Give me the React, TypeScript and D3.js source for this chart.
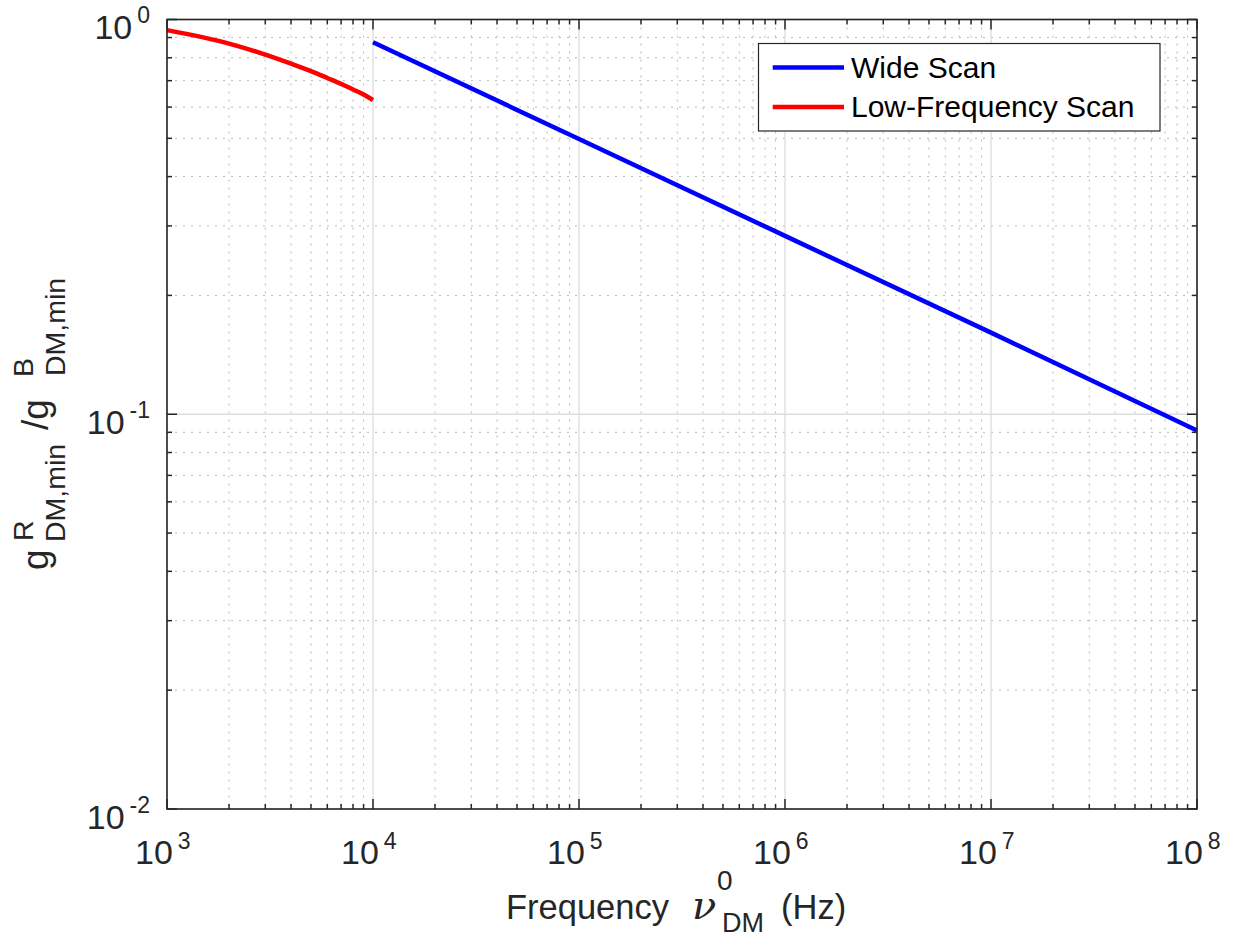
import React from "react";
import * as d3 from "d3";

// ---- data ----
const wideFreq = [1e4, 1e5, 1e6, 1e7, 1e8];
const wideRatio = [0.876, 0.498, 0.283, 0.161, 0.091];

const lowFreq = [1000, 2000, 3000, 4000, 5000, 6000, 7000, 8000, 9000, 10000];
const lowRatio = [0.94, 0.869, 0.815, 0.773, 0.74, 0.711, 0.687, 0.665, 0.646, 0.625];

const xTickExps = [3, 4, 5, 6, 7, 8];
const yTickExps = [-2, -1, 0];

const seriesNames = ["Wide Scan", "Low-Frequency Scan"];
const seriesColors = ["#0000ff", "#ff0000"];

const W = 1237;
const H = 938;
const L = 167;
const R = 1197;
const T = 19.5;
const B = 809;

const AX = "#262626";
const FONT = "'Liberation Sans', Arial, Helvetica, sans-serif";

export default function App() {
  const x = d3.scaleLog().domain([1e3, 1e8]).range([L, R]);
  const y = d3.scaleLog().domain([1e-2, 1]).range([B, T]);

  const xMinor: number[] = [];
  for (let e = xTickExps[0]; e < xTickExps[xTickExps.length - 1]; e++)
    for (let k = 2; k <= 9; k++) xMinor.push(k * Math.pow(10, e));
  const yMinor: number[] = [];
  for (let e = yTickExps[0]; e < yTickExps[yTickExps.length - 1]; e++)
    for (let k = 2; k <= 9; k++) yMinor.push(k * Math.pow(10, e));

  const line = d3
    .line<[number, number]>()
    .x((d) => x(d[0]))
    .y((d) => y(d[1]));
  const lineCurve = d3
    .line<[number, number]>()
    .x((d) => x(d[0]))
    .y((d) => y(d[1]))
    .curve(d3.curveMonotoneX);

  const wideData = wideFreq.map((f, i) => [f, wideRatio[i]] as [number, number]);
  const lowData = lowFreq.map((f, i) => [f, lowRatio[i]] as [number, number]);

  const majLen = 10;
  const minLen = 5;

  // legend
  const legX = 758.5;
  const legY = 43.5;
  const legW = 401.5;
  const legH = 87.5;

  return (
    <svg
      width={W}
      height={H}
      style={{ position: "absolute", left: 0, top: 0, background: "#fff" }}
      fontFamily={FONT}
    >
      <rect x={0} y={0} width={W} height={H} fill="#fff" />
      {/* minor grid */}
      <g stroke="#b8b8b8" strokeWidth={1} strokeDasharray="2,6">
        {xMinor.map((v, i) => (
          <line key={"xm" + i} x1={x(v)} x2={x(v)} y1={T} y2={B} />
        ))}
        {yMinor.map((v, i) => (
          <line key={"ym" + i} x1={L} x2={R} y1={y(v)} y2={y(v)} />
        ))}
      </g>
      {/* major grid */}
      <g stroke="#dcdcdc" strokeWidth={1.3}>
        {xTickExps.map((e) => (
          <line key={"xg" + e} x1={x(Math.pow(10, e))} x2={x(Math.pow(10, e))} y1={T} y2={B} />
        ))}
        {yTickExps.map((e) => (
          <line key={"yg" + e} x1={L} x2={R} y1={y(Math.pow(10, e))} y2={y(Math.pow(10, e))} />
        ))}
      </g>

      {/* data lines */}
      <path d={line(wideData) || ""} fill="none" stroke={seriesColors[0]} strokeWidth={4.5} />
      <path d={lineCurve(lowData) || ""} fill="none" stroke={seriesColors[1]} strokeWidth={4.5} />

      {/* ticks */}
      <g stroke={AX} strokeWidth={1.5}>
        {xTickExps.map((e) => {
          const px = x(Math.pow(10, e));
          return (
            <g key={"xt" + e}>
              <line x1={px} x2={px} y1={B} y2={B - majLen} />
              <line x1={px} x2={px} y1={T} y2={T + majLen} />
            </g>
          );
        })}
        {xMinor.map((v, i) => (
          <g key={"xmt" + i}>
            <line x1={x(v)} x2={x(v)} y1={B} y2={B - minLen} />
            <line x1={x(v)} x2={x(v)} y1={T} y2={T + minLen} />
          </g>
        ))}
        {yTickExps.map((e) => {
          const py = y(Math.pow(10, e));
          return (
            <g key={"yt" + e}>
              <line x1={L} x2={L + majLen} y1={py} y2={py} />
              <line x1={R} x2={R - majLen} y1={py} y2={py} />
            </g>
          );
        })}
        {yMinor.map((v, i) => (
          <g key={"ymt" + i}>
            <line x1={L} x2={L + minLen} y1={y(v)} y2={y(v)} />
            <line x1={R} x2={R - minLen} y1={y(v)} y2={y(v)} />
          </g>
        ))}
      </g>

      {/* axes box */}
      <rect x={L} y={T} width={R - L} height={B - T} fill="none" stroke={AX} strokeWidth={1.6} />

      {/* x tick labels */}
      <g fill={AX}>
        {xTickExps.map((e) => {
          const px = x(Math.pow(10, e));
          return (
            <text key={"xl" + e} x={px - 32} y={864} fontSize={34}>
              10
              <tspan dx={5} dy={-15} fontSize={23}>
                {String(e)}
              </tspan>
            </text>
          );
        })}
      </g>

      {/* y tick labels */}
      <g fill={AX}>
        {yTickExps.map((e) => {
          const py = y(Math.pow(10, e));
          return (
            <text key={"yl" + e} x={150} y={py + 19.5} fontSize={34} textAnchor="end">
              10
              <tspan dx={5} dy={-16} fontSize={23}>
                {e < 0 ? "-" + String(-e) : String(e)}
              </tspan>
            </text>
          );
        })}
      </g>

      {/* x axis title */}
      <g fill={AX}>
        <text x={506} y={919} fontSize={34.5}>
          Frequency
        </text>
        <text
          x={692}
          y={919}
          fontSize={40}
          fontStyle="italic"
          fontFamily="'DejaVu Serif', 'Liberation Serif', serif"
        >
          ν
        </text>
        <text x={717} y={890} fontSize={28}>
          0
        </text>
        <text x={722} y={932} fontSize={27}>
          DM
        </text>
        <text x={781} y={919} fontSize={34.5}>
          (Hz)
        </text>
      </g>

      {/* y axis title */}
      <g fill={AX} transform="rotate(-90)">
        <text x={-570} y={47.5} fontSize={37}>
          g
        </text>
        <text x={-541} y={33} fontSize={28.5}>
          R
        </text>
        <text x={-542} y={65} fontSize={28.5}>
          DM,min
        </text>
        <text x={-430} y={47.5} fontSize={37}>
          /g
        </text>
        <text x={-377} y={33} fontSize={28.5}>
          B
        </text>
        <text x={-376} y={65} fontSize={28.5}>
          DM,min
        </text>
      </g>

      {/* legend */}
      <g>
        <rect x={legX} y={legY} width={legW} height={legH} fill="#fff" stroke={AX} strokeWidth={1.2} />
        {seriesNames.map((name, i) => {
          const ly = legY + 24 + i * 39.4;
          return (
            <g key={name}>
              <line x1={772.7} x2={844} y1={ly} y2={ly} stroke={seriesColors[i]} strokeWidth={4.5} />
              <text x={851} y={ly + 10.5} fontSize={30} fill="#000">
                {name}
              </text>
            </g>
          );
        })}
      </g>
    </svg>
  );
}
